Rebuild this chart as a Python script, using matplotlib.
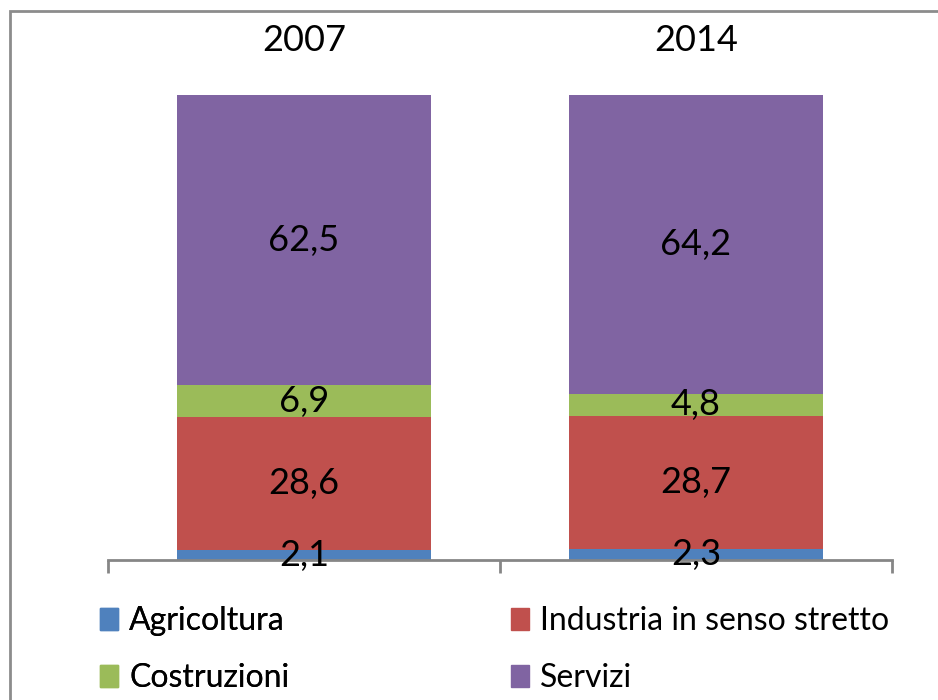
import numpy as np
import matplotlib.pyplot as plt
from matplotlib.patches import Patch, Rectangle

plt.rcParams["font.family"] = ["Lato", "DejaVu Sans"]

years = ["2007", "2014"]
sectors = ["Agricoltura", "Industria in senso stretto", "Costruzioni", "Servizi"]
agricoltura = [2.1, 2.3]
industria = [28.6, 28.7]
costruzioni = [6.9, 4.8]
servizi = [62.5, 64.2]
labels_2007 = ["2,1", "28,6", "6,9", "62,5"]
labels_2014 = ["2,3", "28,7", "4,8", "64,2"]

colors = ["#4F81BD", "#C0504D", "#9BBB59", "#8064A2"]
series = [agricoltura, industria, costruzioni, servizi]
point_labels = [labels_2007, labels_2014]

fig = plt.figure(figsize=(9.38, 7.0), dpi=100)
ax = fig.add_axes([108 / 938, 140 / 700, 784 / 938, 465 / 700])

x = np.arange(len(years))
bottom = np.zeros(len(years))
for i, (vals, col) in enumerate(zip(series, colors)):
    vals = np.array(vals)
    ax.bar(x, vals, 0.65, bottom=bottom, color=col, label=sectors[i], zorder=2)
    for j in range(len(years)):
        ax.text(x[j], bottom[j] + vals[j] / 2, point_labels[j][i],
                ha="center", va="center", fontsize=26, color="black", zorder=4)
    bottom += vals

ax.set_xlim(-0.5, 1.5)
ax.set_ylim(0, 100.1)
ax.set_yticks([])
for s in ["left", "right", "top"]:
    ax.spines[s].set_visible(False)
ax.spines["bottom"].set_color("#868686")
ax.spines["bottom"].set_linewidth(2)
ax.spines["bottom"].set_zorder(3)

# category labels on top, boundary ticks at the bottom
ax.set_xticks(x)
ax.set_xticklabels(years, fontsize=26)
ax.tick_params(axis="x", which="major", top=False, bottom=False,
               labeltop=True, labelbottom=False, pad=24)
ax.set_xticks([-0.5, 0.5, 1.5], minor=True)
ax.tick_params(axis="x", which="minor", bottom=True, length=9, width=2,
               color="#868686", direction="out")

h = [Patch(color=c) for c in colors]
kw = dict(frameon=False, fontsize=23, handlelength=0.57, handleheight=0.66,
          handletextpad=0.35, labelspacing=0.85, loc="upper left",
          borderpad=0, borderaxespad=0)
leg1 = fig.legend([h[0], h[2]], [sectors[0], sectors[2]],
                  bbox_to_anchor=(100 / 938, 1 - 606 / 700), **kw)
fig.add_artist(leg1)
fig.legend([h[1], h[3]], [sectors[1], sectors[3]],
           bbox_to_anchor=(511 / 938, 1 - 606 / 700), **kw)

fig.add_artist(Rectangle((10 / 938, -0.05), 1.2, 1 - 11 / 700 + 0.05,
                         transform=fig.transFigure, fill=False,
                         edgecolor="#8c8c8c", linewidth=2))

fig.savefig("out.png", dpi=100)
